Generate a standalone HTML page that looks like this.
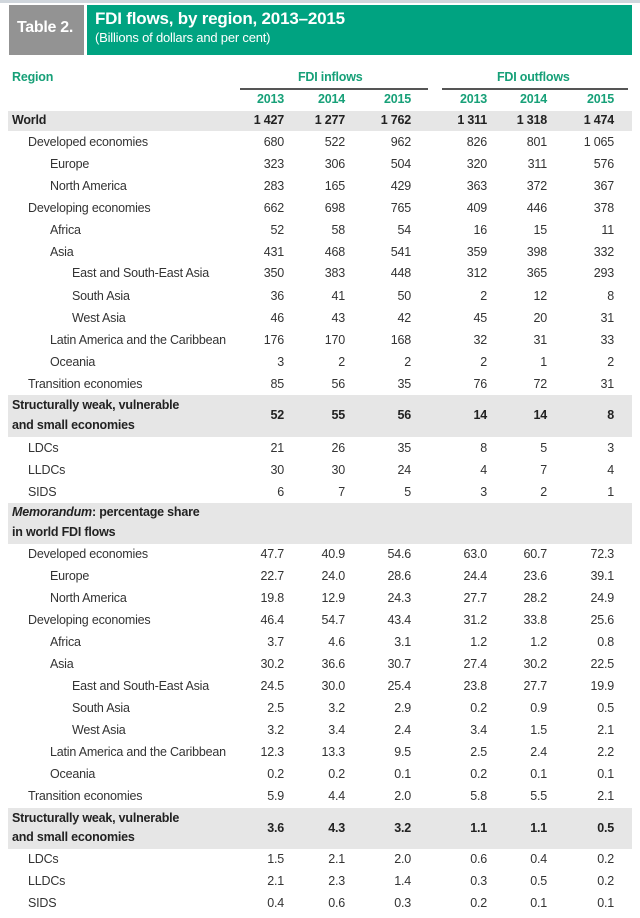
<!DOCTYPE html>
<html><head><meta charset="utf-8"><style>
body{margin:0;background:#fff;}
#p{position:relative;width:640px;height:918px;overflow:hidden;font-family:"Liberation Sans",sans-serif;font-size:12.5px;color:#333;letter-spacing:-0.2px;}
.band{position:absolute;left:8px;width:624px;background:#e6e6e6;}
.r{position:absolute;left:0;width:640px;height:16px;line-height:16px;}
.r span{position:absolute;white-space:nowrap;}
.l0{left:12px}.l1{left:28px}.l2{left:50px}.l3{left:72px}
.c1{right:356px}.c2{right:295px}.c3{right:229px}.c4{right:153px}.c5{right:93px}.c6{right:26px}
.b{font-weight:bold;color:#222}
.g{color:#17a078;font-weight:bold}
.hl{position:absolute;height:2px;background:#555;top:88px}
</style></head><body><div id="p">
<div style="position:absolute;left:0;top:0;width:640px;height:3px;background:#d0d6dc"></div>
<div style="position:absolute;left:9px;top:5px;width:75px;height:50px;background:#939393"></div>
<div style="position:absolute;left:84px;top:5px;width:3px;height:50px;background:#fff"></div>
<div style="position:absolute;left:87px;top:5px;width:545px;height:50px;background:#00a381"></div>
<div style="position:absolute;left:17px;top:19px;color:#fff;font-weight:bold;font-size:16px;letter-spacing:-0.3px">Table 2.</div>
<div style="position:absolute;left:95px;top:9px;color:#fff;font-weight:bold;font-size:17px">FDI flows, by region, 2013–2015</div>
<div style="position:absolute;left:95px;top:30px;color:#fff;font-size:13px">(Billions of dollars and per cent)</div>

<div class="r g" style="top:69px"><span class="l0">Region</span><span style="left:298px">FDI inflows</span><span style="left:497px">FDI outflows</span></div>
<div class="hl" style="left:240px;width:188px"></div>
<div class="hl" style="left:442px;width:186px"></div>
<div class="r g" style="top:91px"><span class="c1">2013</span><span class="c2">2014</span><span class="c3">2015</span><span class="c4">2013</span><span class="c5">2014</span><span class="c6">2015</span></div>

<div class="band" style="top:111px;height:20px"></div>
<div class="band" style="top:395px;height:42px"></div>
<div class="band" style="top:503px;height:41px"></div>
<div class="band" style="top:808px;height:41px"></div>

<div class="r b" style="top:112px"><span class="l0">World</span><span class="c1">1 427</span><span class="c2">1 277</span><span class="c3">1 762</span><span class="c4">1 311</span><span class="c5">1 318</span><span class="c6">1 474</span></div>
<div class="r" style="top:134px"><span class="l1">Developed economies</span><span class="c1">680</span><span class="c2">522</span><span class="c3">962</span><span class="c4">826</span><span class="c5">801</span><span class="c6">1 065</span></div>
<div class="r" style="top:156px"><span class="l2">Europe</span><span class="c1">323</span><span class="c2">306</span><span class="c3">504</span><span class="c4">320</span><span class="c5">311</span><span class="c6">576</span></div>
<div class="r" style="top:178px"><span class="l2">North America</span><span class="c1">283</span><span class="c2">165</span><span class="c3">429</span><span class="c4">363</span><span class="c5">372</span><span class="c6">367</span></div>
<div class="r" style="top:200px"><span class="l1">Developing economies</span><span class="c1">662</span><span class="c2">698</span><span class="c3">765</span><span class="c4">409</span><span class="c5">446</span><span class="c6">378</span></div>
<div class="r" style="top:222px"><span class="l2">Africa</span><span class="c1">52</span><span class="c2">58</span><span class="c3">54</span><span class="c4">16</span><span class="c5">15</span><span class="c6">11</span></div>
<div class="r" style="top:244px"><span class="l2">Asia</span><span class="c1">431</span><span class="c2">468</span><span class="c3">541</span><span class="c4">359</span><span class="c5">398</span><span class="c6">332</span></div>
<div class="r" style="top:265px"><span class="l3">East and South-East Asia</span><span class="c1">350</span><span class="c2">383</span><span class="c3">448</span><span class="c4">312</span><span class="c5">365</span><span class="c6">293</span></div>
<div class="r" style="top:288px"><span class="l3">South Asia</span><span class="c1">36</span><span class="c2">41</span><span class="c3">50</span><span class="c4">2</span><span class="c5">12</span><span class="c6">8</span></div>
<div class="r" style="top:310px"><span class="l3">West Asia</span><span class="c1">46</span><span class="c2">43</span><span class="c3">42</span><span class="c4">45</span><span class="c5">20</span><span class="c6">31</span></div>
<div class="r" style="top:332px"><span class="l2">Latin America and the Caribbean</span><span class="c1">176</span><span class="c2">170</span><span class="c3">168</span><span class="c4">32</span><span class="c5">31</span><span class="c6">33</span></div>
<div class="r" style="top:354px"><span class="l2">Oceania</span><span class="c1">3</span><span class="c2">2</span><span class="c3">2</span><span class="c4">2</span><span class="c5">1</span><span class="c6">2</span></div>
<div class="r" style="top:376px"><span class="l1">Transition economies</span><span class="c1">85</span><span class="c2">56</span><span class="c3">35</span><span class="c4">76</span><span class="c5">72</span><span class="c6">31</span></div>
<div class="r b" style="top:397px"><span class="l0">Structurally weak, vulnerable</span></div>
<div class="r b" style="top:407px"><span class="c1">52</span><span class="c2">55</span><span class="c3">56</span><span class="c4">14</span><span class="c5">14</span><span class="c6">8</span></div>
<div class="r b" style="top:417px"><span class="l0">and small economies</span></div>
<div class="r" style="top:440px"><span class="l1">LDCs</span><span class="c1">21</span><span class="c2">26</span><span class="c3">35</span><span class="c4">8</span><span class="c5">5</span><span class="c6">3</span></div>
<div class="r" style="top:462px"><span class="l1">LLDCs</span><span class="c1">30</span><span class="c2">30</span><span class="c3">24</span><span class="c4">4</span><span class="c5">7</span><span class="c6">4</span></div>
<div class="r" style="top:484px"><span class="l1">SIDS</span><span class="c1">6</span><span class="c2">7</span><span class="c3">5</span><span class="c4">3</span><span class="c5">2</span><span class="c6">1</span></div>
<div class="r b" style="top:504px"><span class="l0"><i>Memorandum</i>: percentage share</span></div>
<div class="r b" style="top:524px"><span class="l0">in world FDI flows</span></div>
<div class="r" style="top:546px"><span class="l1">Developed economies</span><span class="c1">47.7</span><span class="c2">40.9</span><span class="c3">54.6</span><span class="c4">63.0</span><span class="c5">60.7</span><span class="c6">72.3</span></div>
<div class="r" style="top:568px"><span class="l2">Europe</span><span class="c1">22.7</span><span class="c2">24.0</span><span class="c3">28.6</span><span class="c4">24.4</span><span class="c5">23.6</span><span class="c6">39.1</span></div>
<div class="r" style="top:590px"><span class="l2">North America</span><span class="c1">19.8</span><span class="c2">12.9</span><span class="c3">24.3</span><span class="c4">27.7</span><span class="c5">28.2</span><span class="c6">24.9</span></div>
<div class="r" style="top:612px"><span class="l1">Developing economies</span><span class="c1">46.4</span><span class="c2">54.7</span><span class="c3">43.4</span><span class="c4">31.2</span><span class="c5">33.8</span><span class="c6">25.6</span></div>
<div class="r" style="top:634px"><span class="l2">Africa</span><span class="c1">3.7</span><span class="c2">4.6</span><span class="c3">3.1</span><span class="c4">1.2</span><span class="c5">1.2</span><span class="c6">0.8</span></div>
<div class="r" style="top:656px"><span class="l2">Asia</span><span class="c1">30.2</span><span class="c2">36.6</span><span class="c3">30.7</span><span class="c4">27.4</span><span class="c5">30.2</span><span class="c6">22.5</span></div>
<div class="r" style="top:678px"><span class="l3">East and South-East Asia</span><span class="c1">24.5</span><span class="c2">30.0</span><span class="c3">25.4</span><span class="c4">23.8</span><span class="c5">27.7</span><span class="c6">19.9</span></div>
<div class="r" style="top:700px"><span class="l3">South Asia</span><span class="c1">2.5</span><span class="c2">3.2</span><span class="c3">2.9</span><span class="c4">0.2</span><span class="c5">0.9</span><span class="c6">0.5</span></div>
<div class="r" style="top:722px"><span class="l3">West Asia</span><span class="c1">3.2</span><span class="c2">3.4</span><span class="c3">2.4</span><span class="c4">3.4</span><span class="c5">1.5</span><span class="c6">2.1</span></div>
<div class="r" style="top:744px"><span class="l2">Latin America and the Caribbean</span><span class="c1">12.3</span><span class="c2">13.3</span><span class="c3">9.5</span><span class="c4">2.5</span><span class="c5">2.4</span><span class="c6">2.2</span></div>
<div class="r" style="top:766px"><span class="l2">Oceania</span><span class="c1">0.2</span><span class="c2">0.2</span><span class="c3">0.1</span><span class="c4">0.2</span><span class="c5">0.1</span><span class="c6">0.1</span></div>
<div class="r" style="top:788px"><span class="l1">Transition economies</span><span class="c1">5.9</span><span class="c2">4.4</span><span class="c3">2.0</span><span class="c4">5.8</span><span class="c5">5.5</span><span class="c6">2.1</span></div>
<div class="r b" style="top:810px"><span class="l0">Structurally weak, vulnerable</span></div>
<div class="r b" style="top:820px"><span class="c1">3.6</span><span class="c2">4.3</span><span class="c3">3.2</span><span class="c4">1.1</span><span class="c5">1.1</span><span class="c6">0.5</span></div>
<div class="r b" style="top:829px"><span class="l0">and small economies</span></div>
<div class="r" style="top:851px"><span class="l1">LDCs</span><span class="c1">1.5</span><span class="c2">2.1</span><span class="c3">2.0</span><span class="c4">0.6</span><span class="c5">0.4</span><span class="c6">0.2</span></div>
<div class="r" style="top:873px"><span class="l1">LLDCs</span><span class="c1">2.1</span><span class="c2">2.3</span><span class="c3">1.4</span><span class="c4">0.3</span><span class="c5">0.5</span><span class="c6">0.2</span></div>
<div class="r" style="top:895px"><span class="l1">SIDS</span><span class="c1">0.4</span><span class="c2">0.6</span><span class="c3">0.3</span><span class="c4">0.2</span><span class="c5">0.1</span><span class="c6">0.1</span></div>
</div></body></html>
